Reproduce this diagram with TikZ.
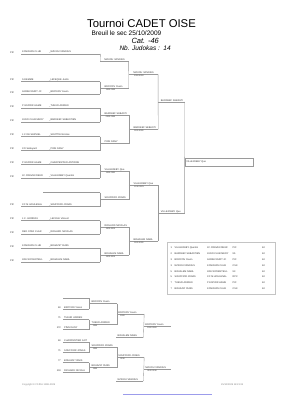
\documentclass[tikz,border=0pt]{standalone}
\usepackage{fontspec}
\setmainfont{Liberation Sans}
\usepackage{xcolor}
\definecolor{trait}{HTML}{9A9A9A}
\definecolor{encre}{HTML}{333333}
\definecolor{cadre}{HTML}{C4C4C4}
\definecolor{bleu}{HTML}{9C9CEB}
\usepackage{tikz}
\usetikzlibrary{positioning,calc}
\newcommand\petit{\fontsize{2.4}{2.8}\selectfont}
\newcommand\mini{\fontsize{2}{2.4}\selectfont}
\tikzset{
  filet/.style  ={draw=trait,line width=0.35pt},
  slot/.style   ={anchor=south west,inner xsep=0pt,inner ysep=0.5pt,
                  text width=#1,align=left,font=\petit,text=encre,
                  append after command={(\tikzlastnode.south west)
                    edge[filet] (\tikzlastnode.south east)}},
  pad/.style    ={execute at begin node={\hspace*{#1}}},
  score/.style  ={font=\mini,text=encre,inner sep=0.3pt},
  code/.style   ={font=\petit,text=encre,inner xsep=0pt,inner ysep=0.5pt},
  finale/.style ={draw=trait,line width=0.35pt,anchor=north west,
                  minimum width=68pt,minimum height=6.5pt,text width=65pt,
                  inner xsep=1.5pt,font=\petit,text=encre,align=left},
  tableau/.style={draw=cadre,line width=0.3pt,anchor=north west,
                  minimum width=108pt,minimum height=52pt},
}

\begin{document}
\begin{tikzpicture}[x=1pt,y=-1pt]
\fill[white] (0,0) rectangle (283,400);
\useasboundingbox (0,0) rectangle (283,400);
% header
\node[font=\fontsize{11.3}{13}\selectfont,anchor=base] (titre) at (141.5,27) {Tournoi CADET OISE};
\node[font=\fontsize{6.5}{7.5}\selectfont,anchor=base west] (lieu) at (88,35.5) {Breuil le sec 25/10/2009};
\node[font=\fontsize{7.5}{8.5}\selectfont\itshape,anchor=base west] (cat) at (128,43) {Cat. -46};
\node[font=\fontsize{6.5}{7.5}\selectfont\itshape,anchor=base west] (nb) at (116,50.5) {Nb. Judokas :\ \ 14};

% main bracket, entries
\foreach \i/\y/\club/\nom in {
  1/54/KOSOVAN CLUB/NZIKOU VANDIUS,
  2/81.5/S.DEMME/LEFEQUE Justin,
  3/94/GONECOURT JC/BROYON Yoann,
  4/108/P ESPOIR HAME/TUEUR ADRIEN,
  5/122/JUDO CLUB MERY/BARDEEF SEBASTIEN,
  6/136.5/J.C DE SERVIEL/SOUTTIE Nicolas,
  7/150.5/CO Satleyard/PINN DANY,
  8/164.5/P ESPOIR HAME/CHARPENTIER ANTOINE,
  9/178/JC CREVECOEUR/VILLEJOEBY Quentin,
  11/206.5/CC M HOULENAL/SOUFFIOR JONAS,
  12/220.5/J.C. GORDOU/LECOLE Vincent,
  13/234/RED STAR CLAR/RICHARD NICOLAS,
  14/248/KOSOVAN CLUB/BOUAZIZ YANIS,
  15/262/JOE WYDENTEUL/BOUALEM NABIL}
{
  \node[code,anchor=south west] (c\i) at (10,\y) {PIC};
  \node[slot=79pt,pad=1pt] (e\i) at (21,\y) {\mbox{\makebox[27pt][l]{\club}\_\nom}};
}
\node[slot=57pt] (e10) at (43,192.5) {};
\coordinate (bye1) at (100,68);

% round 1
\node[slot=28pt,pad=4pt] (w1) at ($(e1.south east)!.5!(bye1)$) {NZIKOU VANDIUS};
\draw[filet] (e1.south east) -- (w1.south west);
\foreach \w/\a/\b/\nom in {2/2/3/BROYON Yoann,3/4/5/BARDEEF SEBASTI,4/6/7/PINN DANY,
  5/8/9/VILLEJOEBY Que,6/10/11/SOUFFIOR JONAS,7/12/13/RICHARD NICOLAS,8/14/15/BOUALEM NABIL}
{
  \node[slot=28pt,pad=4pt] (w\w) at ($(e\a.south east)!.5!(e\b.south east)$) {\mbox{\nom}};
  \draw[filet] (e\a.south east) -- (e\b.south east);
}
% round 2
\foreach \q/\a/\b/\nom in {1/1/2/NZIKOU VANDIUS,2/3/4/BARDEEF SEBASTI,3/5/6/VILLEJOEBY Que,4/7/8/BOUALEM NABIL}
{
  \node[slot=29pt,pad=4.5pt] (q\q) at ($(w\a.south east)!.5!(w\b.south east)$) {\mbox{\nom}};
  \draw[filet] (w\a.south east) -- (w\b.south east);
}
% semi-finals
\foreach \s/\a/\b/\nom in {1/1/2/BARDEEF SEBASTI,2/3/4/VILLEJOEBY Que}
{
  \node[slot=26pt,pad=2.5pt] (s\s) at ($(q\a.south east)!.5!(q\b.south east)$) {\mbox{\nom}};
  \draw[filet] (q\a.south east) -- (q\b.south east);
}
% final
\node[finale] (vainqueur) at ($(s1.south east)!.5!(s2.south east)$) {VILLEJOEBY Que};
\draw[filet] (s1.south east) -- (s2.south east);
% scores
\foreach \n/\t in {w2/1010 0000,w3/0010 0000,w5/1010 0001,w7/1100 0000,w8/1100 0000,
  q1/1000 0000,q2/1100 0000,q3/1010 0001,q4/1100 0000}
  \node[score,below right=0.4pt and 5pt of \n.south west] (sc\n) {\t};

% results
\node[tableau] (classement) at (167,242) {};
\foreach \i/\rg/\nom/\club/\reg in {
  1/1/VILLEJOEBY Quentin/JC CREVECOEUR/PIC,
  2/2/BARDEEF SEBASTIEN/JUDO CLUB MERY/95,
  3/3/BROYON Yoann/GONECOURT JC/PIC,
  4/3/NZIKOU VANDIUS/KOSOVAN CLUB/CSK,
  5/5/BOUALEM NABIL/JOE WYDENTEUL/93,
  6/5/SOUFFIOR JONAS/CC M HOULENAL/RPC,
  7/7/TUEUR ADRIEN/P ESPOIR HAME/PIC,
  8/7/BOUAZIZ YANIS/KOSOVAN CLUB/CSK}
{
  \node[code,anchor=base west] (rg\i) at ($(classement.north west)+(3.5,{6.8+5.8*(\i-1)})$) {\rg};
  \node[code,anchor=base west] (nm\i) at ($(classement.north west)+(7.5,{6.8+5.8*(\i-1)})$) {\nom};
  \node[code,anchor=base west] (cl\i) at ($(classement.north west)+(40,{6.8+5.8*(\i-1)})$) {\club};
  \node[code,anchor=base west] (rc\i) at ($(classement.north west)+(65.5,{6.8+5.8*(\i-1)})$) {\reg};
  \node[code,anchor=base west] (pt\i) at ($(classement.north west)+(95,{6.8+5.8*(\i-1)})$) {60};
}

% repechage
\node[slot=26pt] (rp1) at (63,298) {};
\foreach \i/\y/\n/\nom in {2/309/60/BROYON Yoann,3/319.5/71/TUEUR ADRIEN,4/329.5/172/PINN DANY,
  5/342/60/CHARPENTIER ANT,6/352.5/71/SOUFFIOR JONAS,7/362.5/77/BOUAZIZ YANIS,8/372.5/103/RICHARD NICOLA}
{
  \node[slot=26pt,pad=1pt] (rp\i) at (63,\y) {\mbox{\nom}};
  \node[code,anchor=south east] (rn\i) at ([xshift=-2pt]rp\i.south west) {\n};
}
\foreach \w/\a/\b/\nom in {1/1/2/BROYON Yoann,2/3/4/TUEUR ADRIEN,3/5/6/SOUFFIOR JONAS,4/7/8/BOUAZIZ YANIS}
{
  \node[slot=27pt,pad=2pt] (rw\w) at ($(rp\a.south east)!.5!(rp\b.south east)$) {\mbox{\nom}};
  \draw[filet] (rp\a.south east) -- (rp\b.south east);
}
\foreach \q/\a/\b/\nom in {1/1/2/BROYON Yoann,2/3/4/SOUFFIOR JONAS}
{
  \node[slot=27pt,pad=1.5pt] (rq\q) at ($(rw\a.south east)!.5!(rw\b.south east)$) {\mbox{\nom}};
  \draw[filet] (rw\a.south east) -- (rw\b.south east);
}
\node[slot=27pt,pad=1.5pt] (rl1) at (116,337.5) {BOUALEM NABIL};
\node[slot=27pt,pad=1.5pt] (rl2) at (116,381) {NZIKOU VANDIUS};
\node[slot=27pt,pad=1.5pt] (rf1) at ($(rq1.south east)!.5!(rl1.south east)$) {BROYON Yoann};
\draw[filet] (rq1.south east) -- (rl1.south east);
\node[slot=27pt,pad=1.5pt] (rf2) at ($(rq2.south east)!.5!(rl2.south east)$) {NZIKOU VANDIUS};
\draw[filet] (rq2.south east) -- (rl2.south east);
\foreach \n/\t in {rw2/1000,rw3/1000,rw4/1000,rq1/1000,rq2/0010,rf1/1000 0000,rf2/0100 0010}
  \node[score,below right=0.4pt and 3pt of \n.south west] (sc\n) {\t};

% footer
\node[code,anchor=base west,text=gray] (copy) at (22,385) {Copyright © FFJDA 1998-2009};
\node[code,anchor=base west,text=gray] (date) at (221,385) {25/10/2009 18:23:24};
\draw[bleu,line width=0.9pt] (123,394.5) -- (212,394.5);
\end{tikzpicture}
\end{document}
